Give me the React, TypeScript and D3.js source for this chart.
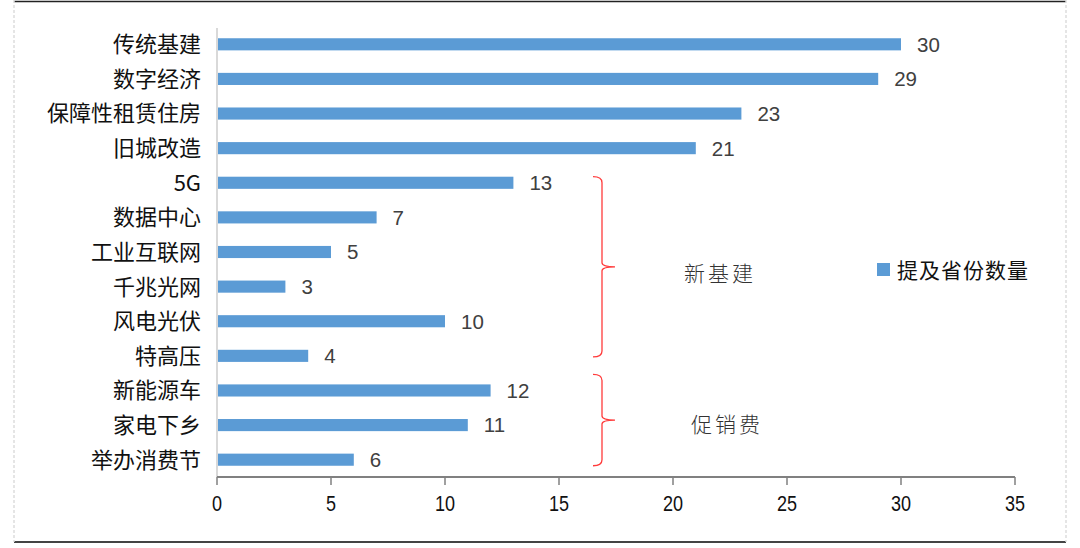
import React from "react";
import * as d3 from "d3";

const categories = ["传统基建", "数字经济", "保障性租赁住房", "旧城改造", "5G", "数据中心", "工业互联网", "千兆光网", "风电光伏", "特高压", "新能源车", "家电下乡", "举办消费节"];
const values = [30, 29, 23, 21, 13, 7, 5, 3, 10, 4, 12, 11, 6];
const xTicks = [0, 5, 10, 15, 20, 25, 30, 35];
const seriesName = "提及省份数量";
const groups = [
  { label: "新基建", from: "5G", to: "特高压" },
  { label: "促销费", from: "新能源车", to: "举办消费节" },
];

const W = 1080;
const H = 548;
const BLUE = "#5b9bd5";
const SANS = "'Noto Sans CJK SC', 'Liberation Sans', sans-serif";

export default function App() {
  const x = d3.scaleLinear().domain([0, 35]).range([217, 1015]);
  const y = d3.scaleBand<string>().domain(categories).range([27, 477]).paddingInner(0.65).paddingOuter(0.325);
  const bw = y.bandwidth();

  const bracePath = (y0: number, y1: number) => {
    const xv = 602, xe = 593, xt = 615;
    const ym = (y0 + y1) / 2;
    return `M${xe},${y0} Q${xv},${y0} ${xv},${y0 + 6} L${xv},${ym - 4} Q${xv},${ym} ${xt},${ym} Q${xv},${ym} ${xv},${ym + 4} L${xv},${y1 - 6} Q${xv},${y1} ${xe},${y1}`;
  };

  const braceSpans = [
    { y0: y(groups[0].from)!, y1: y(groups[0].to)! + bw - 5, tx: 720, ty: 7 },
    { y0: y(groups[1].from)! - 10, y1: y(groups[1].to)! + bw, tx: 727, ty: 4 },
  ];

  return (
    <svg width={W} height={H} style={{ position: "absolute", left: 0, top: 0, background: "#fff" }}>
      {/* frame */}
      <line x1={14} x2={1066} y1={1.5} y2={1.5} stroke="#222" strokeWidth={1.5} />
      <line x1={14} x2={1066} y1={542} y2={542} stroke="#444" strokeWidth={2} />
      <line x1={14} x2={14} y1={0} y2={542} stroke="#ddd" strokeWidth={1.5} strokeDasharray="3,2" />
      <line x1={1066} x2={1066} y1={0} y2={542} stroke="#ddd" strokeWidth={1.5} strokeDasharray="3,2" />

      {/* y axis line */}
      <line x1={217} x2={217} y1={28} y2={477} stroke="#d9d9d9" strokeWidth={2} />

      {/* bars */}
      {categories.map((c, i) => (
        <g key={c}>
          <rect x={x(0) + 1} y={y(c)!} width={x(values[i]) - x(0) - 1} height={bw} fill={BLUE} />
          <text x={x(values[i]) + 16} y={y(c)! + bw / 2} dy="0.36em" fontSize={20.5} fill="#404040" fontFamily="'Liberation Sans', Arial, sans-serif">
            {values[i]}
          </text>
          <text x={201} y={y(c)! + bw / 2} dy="0.36em" textAnchor="end" fontSize={22} fill="#111" fontFamily={SANS}>
            {c}
          </text>
        </g>
      ))}

      {/* x axis */}
      <line x1={x(0)} x2={x(35)} y1={477} y2={477} stroke="#808080" strokeWidth={2} />
      {xTicks.map((t) => (
        <g key={t}>
          <line x1={x(t)} x2={x(t)} y1={477} y2={485} stroke="#808080" strokeWidth={1.5} />
          <g transform={`translate(${x(t)},503) scale(0.82,1)`}>
            <text dy="0.36em" textAnchor="middle" fontSize={22} fill="#111" fontFamily="'Liberation Sans', Arial, sans-serif">
              {t}
            </text>
          </g>
        </g>
      ))}

      {/* braces */}
      {groups.map((g, i) => {
        const s = braceSpans[i];
        const ym = (s.y0 + s.y1) / 2;
        return (
          <g key={g.label}>
            <path d={bracePath(s.y0, s.y1)} fill="none" stroke="#ff3b3b" strokeWidth={1.3} />
            <text x={s.tx} y={ym + s.ty} dy="0.36em" textAnchor="middle" fontSize={21} letterSpacing={3} fill="#333" fontFamily={SANS} fontWeight={300}>
              {g.label}
            </text>
          </g>
        );
      })}

      {/* legend */}
      <rect x={877} y={263} width={13} height={13} fill={BLUE} />
      <text x={897} y={270} dy="0.36em" fontSize={21} letterSpacing={1} fill="#111" fontFamily={SANS}>
        {seriesName}
      </text>
    </svg>
  );
}
